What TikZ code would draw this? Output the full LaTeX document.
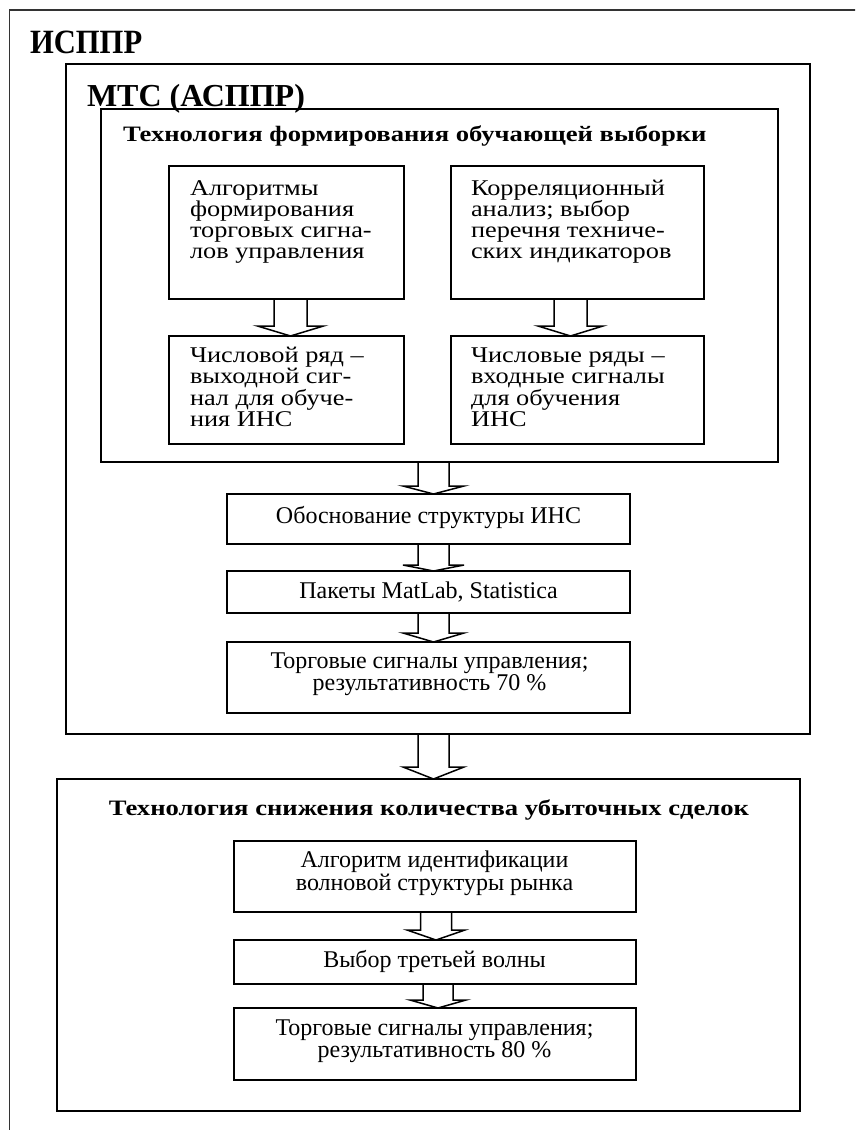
\documentclass[tikz,border=0pt]{standalone}
\usepackage{fontspec}
\setmainfont{Liberation Serif}
\newfontfamily\lfont[FakeStretch=1.17]{Liberation Serif}
\newfontfamily\tfont[FakeStretch=1.21]{Liberation Serif}
\newfontfamily\hfont[FakeStretch=0.9]{Liberation Serif}
\usetikzlibrary{calc}
\newcommand{\Lblock}[2]{\vtop{\hsize=300pt\parindent=0pt\raggedright\lfont\fontsize{22.5}{#1}\selectfont\lineskiplimit=-100pt\relax #2\par}}
\newcommand{\Cblock}[2]{\vtop{\hsize=420pt\parindent=0pt\centering\fontsize{24}{#1}\selectfont\lineskiplimit=-100pt\relax #2\par}}
\newcommand{\barr}[6]{%
  \draw[barrow] let \p1=(#1.south), \p2=(#2.north) in
   ({\x1+(#3pt)-(#5pt)},\y1) -- ({\x1+(#3pt)-(#5pt)},{\y2+#4pt})
   -- ({\x1+(#3pt)-(#6pt)},{\y2+#4pt}) -- ({\x1+(#3pt)},\y2)
   -- ({\x1+(#3pt)+(#6pt)},{\y2+#4pt}) -- ({\x1+(#3pt)+(#5pt)},{\y2+#4pt})
   -- ({\x1+(#3pt)+(#5pt)},\y1);}
\begin{document}
\begin{tikzpicture}[x=1pt,y=-1pt,
  frame/.style={draw, line width=1.6pt, anchor=north west, inner sep=0pt, outer sep=0pt},
  txt/.style={inner sep=0pt, outer sep=0pt},
  barrow/.style={draw, line width=1.5pt, line join=miter}]
\useasboundingbox (0,0) rectangle (855,1130);
\clip (0,0) rectangle (855,1130);
% frames
\node[frame, line width=1.3pt, draw=black!80, minimum width=880pt, minimum height=1150pt] (ispr) at (9.5,10) {};
\node[frame, minimum width=744pt, minimum height=670pt] (mts) at (66,64) {};
\node[frame, minimum width=677pt, minimum height=353pt] (tech1) at (101,109) {};
\node[frame, minimum width=235pt, minimum height=133pt] (A1) at (169,166) {};
\node[frame, minimum width=253pt, minimum height=133pt] (A2) at (451,166) {};
\node[frame, minimum width=235pt, minimum height=108pt] (B1) at (169,336) {};
\node[frame, minimum width=253pt, minimum height=108pt] (B2) at (451,336) {};
\node[frame, minimum width=403pt, minimum height=50pt] (S1) at (227,494) {};
\node[frame, minimum width=403pt, minimum height=42pt] (S2) at (227,571) {};
\node[frame, minimum width=403pt, minimum height=71pt] (S3) at (227,642) {};
\node[frame, minimum width=743pt, minimum height=332pt] (tech2) at (57,779) {};
\node[frame, minimum width=402pt, minimum height=71pt] (C1) at (234,841) {};
\node[frame, minimum width=402pt, minimum height=44pt] (C2) at (234,940) {};
\node[frame, minimum width=402pt, minimum height=72pt] (C3) at (234,1008) {};
% titles
\node[txt, anchor=base west] (tIspr) at (30,53) {\hfont\fontsize{34}{34}\selectfont\bfseries ИСППР};
\node[txt, anchor=base west] (tMts) at (87,106) {\fontsize{32}{32}\selectfont\bfseries МТС (АСППР)};
\node[txt, anchor=base west] (tT1) at (123,141) {\tfont\fontsize{22}{22}\selectfont\bfseries Технология формирования обучающей выборки};
\node[txt, anchor=base] (tT2) at (429,815) {\tfont\fontsize{22}{22}\selectfont\bfseries Технология снижения количества убыточных сделок};
% texts
\node[txt, anchor=base west] (tA1) at (190,195) {\Lblock{21}{Алгоритмы\\формирования\\торговых сигна-\\лов управления}};
\node[txt, anchor=base west] (tA2) at (471,195) {\Lblock{21}{Корреляционный\\анализ; выбор\\перечня техниче-\\ских индикаторов}};
\node[txt, anchor=base west] (tB1) at (190,362) {\Lblock{21.5}{Числовой ряд –\\выходной сиг-\\нал для обуче-\\ния ИНС}};
\node[txt, anchor=base west] (tB2) at (471,362) {\Lblock{21.5}{Числовые ряды –\\входные сигналы\\для обучения\\ИНС}};
\node[txt, anchor=base] (tS1) at (428.5,523) {\Cblock{22}{Обоснование структуры ИНС}};
\node[txt, anchor=base] (tS2) at (428.5,598) {\Cblock{22}{Пакеты MatLab, Statistica}};
\node[txt, anchor=base] (tS3) at (429.5,668) {\Cblock{22}{Торговые сигналы управления;\\результативность 70 \%}};
\node[txt, anchor=base] (tC1) at (434.5,867.5) {\Cblock{22.5}{Алгоритм идентификации\\волновой структуры рынка}};
\node[txt, anchor=base] (tC2) at (434.5,967.5) {\Cblock{22}{Выбор третьей волны}};
\node[txt, anchor=base] (tC3) at (434.5,1035) {\Cblock{22}{Торговые сигналы управления;\\результативность 80 \%}};
% block arrows
\barr{A1}{B1}{4}{10}{16.5}{33}
\barr{A2}{B2}{-7}{10}{16.5}{32.5}
\barr{tech1}{S1}{-6}{8}{15.5}{30.5}
\barr{S1}{S2}{5}{6}{15.5}{30.5}
\barr{S2}{S3}{5}{9}{15.5}{30.5}
\barr{mts}{tech2}{-4.5}{12}{15.5}{30.5}
\barr{C1}{C2}{1}{10}{15.5}{29}
\barr{C2}{C3}{3}{8}{15}{28}
\end{tikzpicture}
\end{document}
